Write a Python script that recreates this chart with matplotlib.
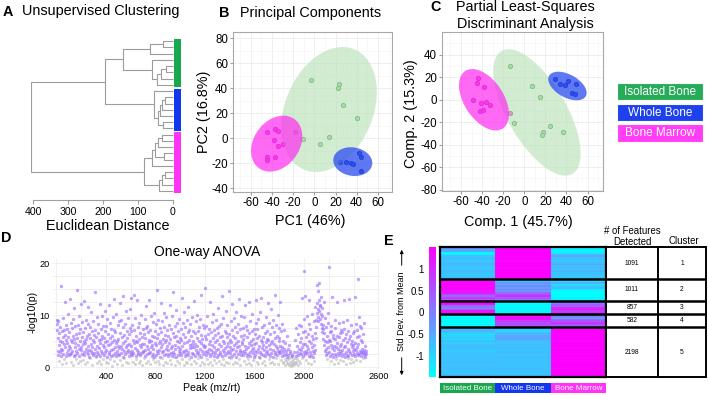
import numpy as np
import matplotlib
matplotlib.use('Agg')
import matplotlib.pyplot as plt
from matplotlib.patches import Ellipse, Rectangle

plt.rcParams['font.family'] = ['Liberation Sans', 'DejaVu Sans']
plt.rcParams['axes.unicode_minus'] = False

# ------------------------------------------------------------------ data
groups = ['Isolated Bone', 'Whole Bone', 'Bone Marrow']
group_colors = ['#1aa84f', '#1237ee', '#ff33f5']
point_faces = ['#9ad49a', '#3a55e6', '#e94fe0']
point_edges = ['#3f8f45', '#1c2a9a', '#a82aa0']
ellipse_colors = ['#b5e0b5', '#2a4cf0', '#ff30f0']
ellipse_alpha = [0.6, 0.75, 0.72]

# A: hierarchical clustering (leaf group, merges: child a, child b, height)
dendro_leaf_groups = [0] * 8 + [1] * 7 + [2] * 10
dendro_merges = [
    (0, 1, 28), (25, 2, 66), (4, 5, 20), (27, 6, 35), (28, 7, 45), (3, 29, 61), (26, 30, 144),
    (9, 10, 22), (32, 11, 30), (33, 12, 36), (13, 14, 28), (34, 35, 42), (8, 36, 54),
    (15, 16, 30), (38, 17, 42), (18, 19, 25), (39, 40, 52), (41, 20, 61),
    (21, 22, 22), (43, 23, 32), (44, 24, 40), (42, 45, 83),
    (31, 37, 193), (47, 46, 406),
]

# B: PCA scores
pca_x = [[-3.1, 23.0, 22.6, 27.4, 40.3, 13.8, 5.0, -11.0],
         [24.2, 29.6, 34.6, 36.5, 41.8, 44.0, 43.7],
         [-44.7, -37.1, -34.6, -18.2, -38.0, -29.6, -34.0, -44.7, -44.7, -37.4]]
pca_y = [[46.4, 43.7, 40.5, 26.4, 16.5, 0.8, -4.8, -0.5],
         [-18.7, -18.9, -20.0, -20.3, -11.7, -14.7, -26.1],
         [5.1, 7.2, 6.1, 5.3, -1.3, -4.3, -6.1, -14.9, -17.3, -14.7]]
# confidence ellipses: centre x, centre y, half-extent x, half-extent y, correlation
pca_ellipses = [(14.0, 23.0, 45.0, 50.0, 0.28),
                (36.3, -18.7, 18.4, 11.5, -0.10),
                (-35.5, -4.3, 24.2, 22.4, 0.26)]
pca_yticks = [-40, -20, 0, 20, 40, 60, 80]

# C: PLS-DA scores
pls_x = [[-13.9, 7.6, 15.2, -9.5, 24.3, 17.4, 17.1, 37.0],
         [29.1, 33.8, 38.9, 41.7, 49.0, 44.9, 48.0],
         [-44.2, -44.9, -37.9, -48.3, -41.1, -36.7, -32.9, -42.3, -39.2, -13.9]]
pls_y = [[29.8, 12.0, 2.5, -21.2, -23.3, -28.9, -31.6, -29.2],
         [18.2, 14.1, 12.6, 16.4, 13.5, 5.8, 5.2],
         [19.4, 14.7, 11.1, -0.1, -3.1, -1.9, -5.2, -10.2, -9.6, -12.3]]
pls_ellipses = [(12.0, -11.5, 41.4, 56.2, -0.65),
                (40.9, 12.0, 18.2, 12.7, -0.48),
                (-38.2, -0.2, 23.7, 27.3, -0.47)]
pls_yticks = [-80, -60, -40, -20, 0, 20, 40]
score_xticks = [-60, -40, -20, 0, 20, 40, 60]

# D: one-way ANOVA -log10(p) per peak (read in peak order)
anova_peaks_0_500 = [
    9.1, 8.4, 7.2, 5.6, 3.1, 2.4, 8.8, 6.5, 4.2, 1.2, 2.9, 7.7, 5.1, 3.6, 15.6, 2.2, 6.9, 4.8, 0.6, 3.3,
    9.4, 5.8, 2.6, 7.1, 4.4, 1.5, 12.6, 3.9, 6.2, 2.1, 8.1, 5.3, 0.9, 4.6, 2.8, 7.4, 3.4, 10.2, 5.9, 2.3,
    4.1, 6.8, 2.5, 13.1, 3.7, 8.6, 5.2, 1.1, 2.7, 7.5, 4.9, 3.2, 9.3, 6.1, 0.5, 2.2, 5.5, 11.4, 3.8, 7.9,
    2.4, 4.6, 1.6, 6.3, 3.1, 14.9, 5.7, 2.8, 8.2, 4.3, 0.8, 3.5, 9.8, 6.6, 2.1, 5.1, 7.3, 1.3, 3.9, 12.2,
    3.3, 5.9, 2.6, 8.7, 4.4, 1.4, 6.7, 3.0, 12.8, 5.0, 2.3, 7.6, 4.7, 0.7, 3.6, 9.1, 5.4, 2.9, 6.0, 1.0,
    4.0, 8.3, 2.5, 11.5, 3.4, 6.4, 2.0, 5.6, 7.8, 1.7, 4.5, 3.2, 10.6, 2.7, 6.9, 0.4, 3.8, 5.3, 8.9, 2.4,
    6.2, 2.8, 4.9, 14.5, 3.5, 7.1, 1.9, 5.8, 2.2, 9.6, 4.1, 0.9, 3.0, 6.6, 2.5, 8.4, 5.2, 1.3, 3.7, 12.1,
    4.6, 2.1, 7.3, 5.5, 0.6, 3.1, 9.9, 6.0, 2.7, 4.3, 8.0, 1.6, 3.9, 5.7, 2.3, 10.8, 4.8, 7.0, 2.9, 1.1,
    3.4, 7.9, 5.1, 2.0, 9.2, 4.2, 0.8, 6.3, 3.0, 11.9, 2.6, 5.6, 8.5, 1.5, 4.4, 3.3, 7.4, 2.2, 6.1, 0.3,
    4.9, 9.7, 3.6, 2.4, 13.2, 5.3, 1.2, 7.2, 3.9, 2.8, 6.8, 4.6, 10.3, 2.1, 5.0, 0.7, 3.2, 8.1, 4.0, 2.5,
]
anova_peaks_500_1000 = [
    5.4, 2.3, 8.8, 3.7, 12.4, 6.5, 1.4, 4.1, 2.7, 9.0, 5.9, 0.5, 3.5, 7.7, 2.0, 4.7, 13.6, 3.1, 6.2, 1.8,
    8.3, 2.6, 5.0, 3.8, 10.9, 1.0, 4.3, 7.0, 2.9, 5.7, 0.9, 3.3, 9.5, 6.4, 2.2, 4.5, 11.2, 3.0, 7.5, 2.5,
    4.0, 13.4, 6.9, 2.4, 3.2, 8.2, 5.3, 1.1, 2.8, 7.1, 13.8, 4.6, 0.6, 3.7, 9.4, 2.1, 6.0, 5.1, 1.6, 3.4,
    12.9, 4.9, 2.6, 7.8, 3.0, 0.8, 5.5, 8.6, 2.3, 4.2, 6.6, 1.3, 3.9, 10.1, 2.7, 5.8, 0.4, 4.4, 7.3, 3.1,
    2.9, 6.3, 4.5, 1.7, 9.3, 3.3, 5.6, 2.1, 11.7, 7.6, 0.9, 4.1, 2.5, 8.0, 3.6, 6.7, 1.2, 5.2, 2.8, 13.0,
    4.8, 3.0, 7.2, 0.7, 3.8, 9.8, 5.0, 2.2, 6.1, 4.3, 1.5, 8.7, 2.6, 3.5, 5.9, 10.5, 2.0, 4.7, 7.0, 1.0,
    4.2, 2.4, 8.4, 5.7, 14.8, 3.1, 1.3, 6.4, 2.7, 9.1, 4.6, 0.6, 3.4, 7.5, 5.1, 2.0, 12.3, 3.9, 6.8, 1.8,
    2.9, 8.9, 4.4, 0.5, 5.5, 3.2, 7.7, 2.3, 10.4, 4.9, 1.1, 6.2, 3.6, 2.6, 9.6, 5.3, 0.8, 4.0, 7.1, 2.1,
    6.0, 3.3, 2.5, 8.1, 4.7, 12.0, 1.4, 5.4, 2.8, 7.3, 3.7, 0.7, 9.9, 4.1, 2.2, 6.5, 14.5, 3.0, 5.8, 1.9,
    2.6, 7.9, 4.3, 0.4, 3.5, 11.0, 6.1, 2.0, 5.0, 8.5, 1.2, 3.8, 2.4, 6.9, 4.8, 0.9, 9.2, 3.1, 5.6, 2.7,
]
anova_peaks_1000_1500 = [
    3.6, 7.4, 2.3, 5.2, 13.3, 4.0, 1.6, 8.6, 2.9, 6.3, 3.2, 0.5, 4.6, 10.7, 2.1, 5.9, 7.8, 1.0, 3.4, 2.6,
    9.0, 4.9, 0.8, 6.7, 3.0, 11.6, 2.4, 5.3, 7.2, 1.5, 4.2, 3.7, 8.3, 2.0, 6.0, 0.6, 3.9, 9.7, 4.5, 2.8,
    5.1, 2.5, 7.0, 3.8, 12.7, 1.3, 4.4, 6.6, 2.2, 8.8, 3.3, 0.9, 5.6, 2.7, 10.0, 4.1, 1.7, 6.9, 3.0, 7.7,
    2.4, 5.0, 0.4, 3.5, 9.3, 4.7, 2.0, 6.2, 13.9, 3.1, 1.1, 5.4, 8.1, 2.6, 4.3, 0.7, 3.9, 7.5, 2.9, 6.1,
    15.2, 4.0, 2.3, 8.0, 5.5, 1.5, 3.2, 9.8, 6.4, 2.8, 0.6, 4.5, 7.3, 3.6, 2.1, 12.5, 5.0, 1.0, 3.4, 6.8,
    2.5, 8.7, 4.2, 0.5, 3.0, 10.3, 5.7, 2.2, 7.1, 3.8, 1.4, 4.8, 2.7, 6.2, 9.1, 0.8, 3.3, 5.2, 2.0, 7.6,
    3.5, 6.6, 2.4, 11.3, 4.4, 1.2, 7.9, 3.0, 5.8, 2.6, 0.7, 8.4, 4.0, 2.1, 13.7, 6.0, 3.3, 1.6, 5.1, 9.5,
    2.9, 4.7, 0.4, 7.0, 3.7, 2.3, 6.5, 10.8, 1.1, 4.1, 5.9, 2.7, 8.2, 3.2, 0.9, 4.6, 14.6, 2.0, 6.3, 3.9,
    2.8, 5.3, 8.9, 3.4, 1.8, 4.9, 7.2, 2.2, 12.2, 6.1, 0.6, 3.6, 9.4, 4.3, 2.5, 5.7, 1.0, 7.8, 3.1, 10.6,
    2.0, 4.6, 6.7, 0.8, 3.8, 8.3, 2.6, 5.0, 13.1, 1.5, 4.1, 2.9, 7.4, 3.3, 0.5, 6.0, 9.9, 2.4, 4.8, 3.0,
]
anova_peaks_1500_2000 = [
    4.5, 2.3, 7.6, 5.4, 1.2, 3.1, 9.7, 6.2, 2.7, 11.9, 4.0, 0.7, 3.5, 8.0, 2.1, 5.8, 7.1, 1.6, 3.9, 2.5,
    12.6, 4.7, 0.9, 6.5, 3.0, 8.8, 2.2, 5.1, 4.2, 0.4, 3.3, 10.2, 6.9, 2.8, 1.4, 5.5, 3.7, 7.3, 2.0, 4.4,
    6.4, 3.2, 2.4, 8.5, 12.9, 4.6, 1.1, 5.7, 2.9, 7.4, 3.5, 0.6, 9.2, 4.1, 2.0, 6.1, 3.0, 10.7, 1.7, 5.2,
    2.6, 13.3, 4.8, 0.8, 3.7, 7.8, 2.3, 5.9, 4.3, 1.3, 8.1, 3.3, 6.6, 2.1, 0.5, 4.9, 9.6, 3.8, 2.7, 5.5,
    3.1, 7.0, 2.5, 5.3, 12.4, 4.2, 1.5, 8.6, 3.6, 2.2, 6.3, 0.9, 4.7, 11.1, 2.8, 5.0, 7.7, 1.0, 3.4, 2.0,
    9.0, 4.4, 0.6, 6.8, 3.0, 13.9, 2.6, 5.6, 8.2, 1.8, 4.0, 3.7, 2.3, 6.0, 10.1, 0.7, 3.2, 5.1, 2.9, 7.5,
    5.7, 2.7, 4.1, 12.5, 3.3, 1.4, 6.9, 2.2, 3.8, 8.4, 1.1, 2.9, 5.0, 0.8, 3.5, 2.4, 7.1, 1.6, 4.6, 0.5,
    2.6, 3.1, 1.2, 6.0, 2.0, 0.9, 3.6, 1.5, 2.3, 0.6, 4.3, 1.8, 0.4, 2.8, 1.0, 3.2, 0.7, 1.9, 0.3, 2.1,
    1.3, 0.5, 2.4, 0.9, 1.6, 0.4, 3.0, 1.1, 0.7, 5.2, 1.8, 0.6, 2.2, 1.0, 7.6, 0.8, 4.1, 1.5, 2.9, 0.5,
    6.3, 2.3, 3.6, 1.2, 8.1, 2.7, 4.8, 0.9, 3.3, 7.9, 2.5, 5.6, 1.7, 13.4, 3.9, 6.7, 2.1, 4.4, 9.3, 3.0,
]
anova_peaks_2000_2500 = [
    18.4, 4.5, 2.6, 7.0, 13.6, 3.2, 5.9, 1.4, 9.8, 2.8, 4.0, 6.4, 0.8, 3.5, 8.3, 2.2, 12.9, 5.1, 1.9, 3.0,
    7.4, 4.6, 2.4, 0.6, 6.0, 3.8, 10.2, 2.0, 5.4, 3.1, 8.8, 1.2, 4.2, 2.7, 6.6, 11.5, 3.4, 5.7, 9.0, 7.8,
    10.5, 12.3, 15.8, 9.6, 11.1, 14.7, 8.9, 13.0, 10.9, 16.2, 9.2, 12.0, 11.7, 8.4, 10.2, 13.5, 7.6, 9.9, 11.4, 6.8,
    8.2, 5.5, 7.3, 12.6, 4.2, 6.5, 3.1, 9.4, 5.0, 2.4, 7.8, 3.6, 4.8, 1.5, 6.1, 2.7, 10.4, 3.9, 8.6, 5.3,
    19.3, 3.0, 6.7, 2.2, 5.1, 8.0, 4.3, 1.2, 7.0, 2.6, 3.7, 13.5, 5.6, 2.0, 6.2, 4.0, 0.7, 3.3, 9.1, 2.5,
    5.4, 7.6, 1.6, 3.8, 2.1, 6.0, 4.6, 12.6, 2.8, 3.5, 0.9, 5.8, 8.5, 2.3, 4.1, 6.5, 3.1, 1.4, 7.2, 2.7,
    4.4, 2.2, 6.8, 3.4, 8.7, 1.3, 5.2, 2.6, 7.4, 3.9, 12.9, 2.0, 5.7, 4.1, 0.6, 6.3, 3.0, 2.4, 9.0, 4.8,
    1.8, 3.6, 7.0, 2.1, 5.5, 13.2, 3.2, 0.8, 6.1, 2.7, 4.5, 8.2, 1.5, 3.8, 5.0, 2.3, 6.6, 3.1, 1.0, 4.2,
    3.5, 6.9, 2.5, 4.7, 13.5, 2.1, 8.4, 3.3, 1.4, 5.8, 2.8, 7.2, 3.9, 2.3, 16.9, 4.4, 9.6, 2.6, 6.0, 3.1,
    1.2, 8.0, 2.9, 5.3, 2.2, 7.5, 3.6, 2.7, 4.9, 1.7, 3.0, 6.3, 2.4, 8.5, 3.4, 2.0, 4.1, 2.8, 3.2, 2.5,
]
n_peaks = 2500
significance_cut = 2.0
anova_xticks = [400, 800, 1200, 1600, 2000, 2600]
anova_yticks = [0, 10, 20]

# E: cluster heatmap (std. dev. from mean), rows per k-means cluster
hm_isolated = [
    [-0.3, -0.4, -0.5, -1.4, -1.3, -0.8, -0.7, -0.8, -0.9, -0.7, -0.6, -0.8, -0.9, -0.8, -0.7, -0.8, -0.9, -0.8, -0.7],
    [1.4, 1.5, 1.4, 1.5, 1.4, 1.45, 1.4, 1.3, 1.2, 0.6, 0.3, 0.8, 0.5],
    [1.4, 1.5, 1.3, 0.2, -0.1, 0.5, 1.3, 1.4],
    [-1.4, -1.5, -1.4, -1.5, -1.4, -1.5, -1.4, -1.5],
    [-0.5, -0.7, -0.6, -0.9, -1.1, -1.0, -0.9, -1.0, -0.8, -0.9, -0.8, -0.7, -0.8, -0.8, -0.9,
     -0.8, -0.7, -0.8, -0.8, -0.8, -0.8, -0.7, -0.8, -0.8, -0.7, -0.8, -0.8, -0.8, -0.7, -0.8],
]
hm_whole = [
    [1.4, 1.5, 1.45, 1.5, 1.4, 1.5, 1.45, 1.5, 1.4, 1.5, 1.45, 1.5, 1.4, 1.5, 1.45, 1.5, 1.4, 1.5, 1.45],
    [-0.9, -0.8, -0.3, -0.5, -0.1, -0.4, 0.0, -0.3, 0.3, 0.6, 0.9, 0.5, 0.2],
    [-1.4, -1.5, -1.4, -1.5, -1.4, -1.5, -1.4, -1.3],
    [0.9, 1.3, 1.4, 1.2, 0.8, 0.6, 0.7, 0.5],
    [-0.8, -0.9, -1.0, -0.7, -0.6, -0.5, -0.4, -0.5, -0.7, -0.8, -0.7, -0.8, -0.7, -0.8, -0.8,
     -0.7, -0.8, -0.8, -0.7, -0.8, -0.8, -0.8, -0.7, -0.8, -0.8, -0.7, -0.8, -0.8, -0.7, -0.8],
]
hm_marrow = [
    [-1.4, -1.3, -1.4, -1.2, -0.7, -0.5, -0.8, -0.6, -0.9, -0.7, -0.4, -0.8, -0.7, -0.9, -0.6, -0.8, -0.7, -0.9, -0.8],
    [-0.8, -1.0, -0.6, -1.2, -0.9, -0.7, -1.3, -1.4, -1.5, -1.4, -1.5, -1.4, -1.3],
    [-0.2, 0.1, 0.5, 0.3, 1.0, 1.2, 0.8, 0.9],
    [-0.2, 0.1, -0.4, 0.2, 0.5, 0.9, 0.6, 0.3],
    [1.4, 1.5, 1.45, 1.5, 1.4, 1.5, 1.45, 1.5, 1.4, 1.5, 1.45, 1.5, 1.4, 1.5, 1.45,
     1.5, 1.4, 1.5, 1.45, 1.5, 1.4, 1.5, 1.45, 1.5, 1.4, 1.5, 1.45, 1.5, 1.4, 1.5],
]
features_detected = [1091, 1011, 857, 582, 2198]
cluster_ids = [1, 2, 3, 4, 5]
cbar_ticks = [-1, -0.5, 0, 0.5, 1]

# ------------------------------------------------------------------ figure
W, H = 709, 396
fig = plt.figure(figsize=(W / 100, H / 100), dpi=100)


def axes_px(x0, y0, x1, y1):
    return fig.add_axes([x0 / W, 1 - y1 / H, (x1 - x0) / W, (y1 - y0) / H])


def text_px(x, y, s, **kw):
    kw.setdefault('va', 'center')
    return fig.text(x / W, 1 - y / H, s, **kw)


def cov_ellipse(cx, cy, ex, ey, r, **kw):
    S = np.array([[ex * ex, r * ex * ey], [r * ex * ey, ey * ey]])
    vals, vecs = np.linalg.eigh(S)
    order = np.argsort(vals)[::-1]
    vals, vecs = vals[order], vecs[:, order]
    ang = np.degrees(np.arctan2(vecs[1, 0], vecs[0, 0]))
    return Ellipse((cx, cy), 2 * np.sqrt(vals[0]), 2 * np.sqrt(vals[1]), angle=ang, **kw)


TXT = 10.4
TICK = 8.3

# ---------------- A: dendrogram
axA = axes_px(31, 38, 181, 194)
n_leaves = len(dendro_leaf_groups)
pos = {i: i + 0.5 for i in range(n_leaves)}
hgt = {i: 0.0 for i in range(n_leaves)}
for k, (a, b, h) in enumerate(dendro_merges):
    node = n_leaves + k
    axA.plot([hgt[a], h, h, hgt[b]], [pos[a], pos[a], pos[b], pos[b]],
             color='#9c9c9c', lw=0.8, solid_capstyle='butt')
    pos[node] = (pos[a] + pos[b]) / 2
    hgt[node] = h
for g in range(len(groups)):
    idx = [i for i, lg in enumerate(dendro_leaf_groups) if lg == g]
    axA.add_patch(Rectangle((-2.5, min(idx) + 0.12), -20, max(idx) - min(idx) + 0.76,
                            facecolor=group_colors[g], edgecolor='none'))
for s in ['top', 'right', 'left']:
    axA.spines[s].set_visible(False)
axA.spines['bottom'].set_bounds(0, 400)
axA.spines['bottom'].set_position(('outward', 4))
axA.spines['bottom'].set_color('#a0a0a0')
axA.set_yticks([])
axA.set_xticks([400, 300, 200, 100, 0])
axA.set_xlim(405.7, -22.9)
axA.set_ylim(n_leaves, 0)
axA.tick_params(axis='x', length=3, color='#a0a0a0', labelsize=7.6, pad=2.5)
axA.patch.set_visible(False)
text_px(3, 11.5, 'A', fontsize=TXT, fontweight='bold')
text_px(22, 11.5, 'Unsupervised Clustering', fontsize=TXT)
text_px(107.5, 225.7, 'Euclidean Distance', fontsize=TXT, ha='center')


# ---------------- B & C: score plots
def score_panel(box, xs, ys, ells, yticks, xlim, ylim):
    ax = axes_px(*box)
    for g in range(len(groups)):
        ax.scatter(xs[g], ys[g], s=9, facecolor=point_faces[g], edgecolor=point_edges[g],
                   linewidth=0.7, zorder=3)
    for g in [0, 1, 2]:
        ax.add_patch(cov_ellipse(*ells[g], facecolor=ellipse_colors[g], edgecolor='none',
                                 alpha=ellipse_alpha[g], zorder=4))
    ax.set_xticks(score_xticks)
    ax.set_xticks(np.arange(-70, 71, 10), minor=True)
    ax.set_yticks(yticks)
    ax.set_yticks([t for t in np.arange(-90, 91, 10) if ylim[0] <= t <= ylim[1]], minor=True)
    ax.set_xlim(*xlim)
    ax.set_ylim(*ylim)
    ax.grid(True, which='major', color='#ececec', lw=0.6)
    ax.grid(True, which='minor', color='#f6f6f6', lw=0.5)
    ax.set_axisbelow(True)
    ax.tick_params(which='major', length=2, color='#a0a0a0', labelsize=TICK, pad=1.5)
    ax.tick_params(which='minor', length=0)
    for s in ax.spines.values():
        s.set_color('#a8a8a8')
        s.set_linewidth(0.8)
    return ax


axB = score_panel((233, 32, 392, 192), pca_x, pca_y, pca_ellipses, pca_yticks,
                  (-76.7, 73.3), (-43, 85))
text_px(219, 12.7, 'B', fontsize=TXT, fontweight='bold')
text_px(240, 12.7, 'Principal Components', fontsize=TXT)
text_px(310, 221, 'PC1 (46%)', fontsize=TXT, ha='center')
text_px(204, 111.7, 'PC2 (16.8%)', fontsize=TXT, ha='center', rotation=90)

axC = score_panel((442, 32, 603, 191), pls_x, pls_y, pls_ellipses, pls_yticks,
                  (-78, 74.6), (-81.3, 60))
text_px(430, 7.3, 'C', fontsize=TXT, fontweight='bold')
text_px(525, 7.3, 'Partial Least-Squares', fontsize=TXT, ha='center')
text_px(525, 24, 'Discriminant Analysis', fontsize=TXT, ha='center')
text_px(518, 221.7, 'Comp. 1 (45.7%)', fontsize=TXT, ha='center')
text_px(411, 113.3, 'Comp. 2 (15.3%)', fontsize=TXT, ha='center', rotation=90)

# ---------------- D: ANOVA
vals = np.array(anova_peaks_0_500 + anova_peaks_500_1000 + anova_peaks_1000_1500
                + anova_peaks_1500_2000 + anova_peaks_2000_2500)
peak = np.arange(len(vals)) * n_peaks / len(vals) + 1
sig = vals >= significance_cut
axD = axes_px(53, 259, 380, 369)
axD.scatter(peak[~sig], vals[~sig], s=5, color='#c4c4c4', alpha=0.7, linewidths=0, zorder=2)
axD.scatter(peak[sig], vals[sig], s=6, color='#9a6cff', alpha=0.62, linewidths=0, zorder=3)
axD.set_xticks(anova_xticks)
axD.set_xticks(np.arange(0, 2601, 200), minor=True)
axD.set_yticks(anova_yticks)
axD.set_yticks(np.arange(0, 20.1, 2.5), minor=True)
axD.set_xlim(-28, 2613)
axD.set_ylim(-0.33, 20.8)
axD.grid(True, which='both', color='#eeeeee', lw=0.6)
axD.set_axisbelow(True)
axD.tick_params(which='both', length=0, labelsize=6.6, pad=2.5)
for s in axD.spines.values():
    s.set_visible(False)
text_px(1, 238, 'D', fontsize=TXT, fontweight='bold')
text_px(207, 252, 'One-way ANOVA', fontsize=10, ha='center')
text_px(212, 387.7, 'Peak (mz/rt)', fontsize=7.6, ha='center')
text_px(33, 312, '-log10(p)', fontsize=7.6, ha='center', rotation=90)

# ---------------- E: heatmap + table
n_rows = [len(c) for c in hm_isolated]
mat = np.column_stack([np.concatenate(hm_isolated), np.concatenate(hm_whole),
                       np.concatenate(hm_marrow)])
total = mat.shape[0]
bounds = np.concatenate([[0], np.cumsum(n_rows)])
axE = axes_px(440, 247.3, 606, 377.3)
im = axE.imshow(mat, cmap='cool', vmin=-1.5, vmax=1.5, aspect='auto',
                interpolation='nearest', extent=(0, 3, total, 0))
for b in bounds[1:-1]:
    axE.axhline(b, color='black', lw=1.8)
axE.set_xticks([])
axE.set_yticks([])
for s in axE.spines.values():
    s.set_color('black')
    s.set_linewidth(1.6)

axT = axes_px(606, 247.3, 706, 377.3)
axT.set_xlim(0, 100)
axT.set_ylim(total, 0)
for b in bounds[1:-1]:
    axT.axhline(b, color='black', lw=1.8)
axT.axvline(52, color='black', lw=1.4)
for i in range(len(features_detected)):
    ymid = (bounds[i] + bounds[i + 1]) / 2
    axT.text(26, ymid, str(features_detected[i]), ha='center', va='center', fontsize=4.8)
    axT.text(76, ymid, str(cluster_ids[i]), ha='center', va='center', fontsize=4.8)
axT.set_xticks([])
axT.set_yticks([])
for s in axT.spines.values():
    s.set_color('black')
    s.set_linewidth(1.4)
text_px(632.7, 230.7, '# of Features', fontsize=6.9, ha='center')
text_px(632.7, 241.7, 'Detected', fontsize=6.9, ha='center')
text_px(684, 240.7, 'Cluster', fontsize=6.9, ha='center')

cax = axes_px(429.3, 247.3, 435.7, 377.3)
cb = fig.colorbar(im, cax=cax)
cb.outline.set_visible(False)
cb.set_ticks(cbar_ticks)
cb.set_ticklabels(['-1', '-0.5', '0', '0.5', '1'])
cax.yaxis.set_ticks_position('left')
cax.tick_params(length=0, labelsize=7, pad=4)
text_px(384, 241, 'E', fontsize=TXT, fontweight='bold')

# ---------------- overlay: legends, arrows
axO = fig.add_axes([0, 0, 1, 1])
axO.set_xlim(0, W)
axO.set_ylim(H, 0)
axO.axis('off')

legend_rows = [(83, 100), (104, 121), (124, 142)]
for g, (y0, y1) in enumerate(legend_rows):
    axO.add_patch(Rectangle((617, y0), 86, y1 - y0, facecolor=group_colors[g],
                            edgecolor='#ffffff', lw=0.8, alpha=0.95))
    axO.text(660, (y0 + y1) / 2 + 0.5, groups[g], color='white', fontsize=8.5,
             ha='center', va='center')

col_edges = [440, 495.3, 550.7, 606]
for g in range(len(groups)):
    axO.add_patch(Rectangle((col_edges[g], 382.7), col_edges[g + 1] - col_edges[g], 10,
                            facecolor=group_colors[g], edgecolor='none'))
    axO.text((col_edges[g] + col_edges[g + 1]) / 2, 388, groups[g], color='white',
             fontsize=5.8, ha='center', va='center')

axO.annotate('', xy=(401.7, 247), xytext=(401.7, 268),
             arrowprops=dict(arrowstyle='-|>', lw=0.7, color='black', mutation_scale=5))
axO.annotate('', xy=(401.7, 378), xytext=(401.7, 355),
             arrowprops=dict(arrowstyle='-|>', lw=0.7, color='black', mutation_scale=5))
axO.text(401.7, 311.5, 'Std Dev. from Mean', rotation=90, fontsize=6.5,
         ha='center', va='center')

fig.savefig('out.png', dpi=100)
